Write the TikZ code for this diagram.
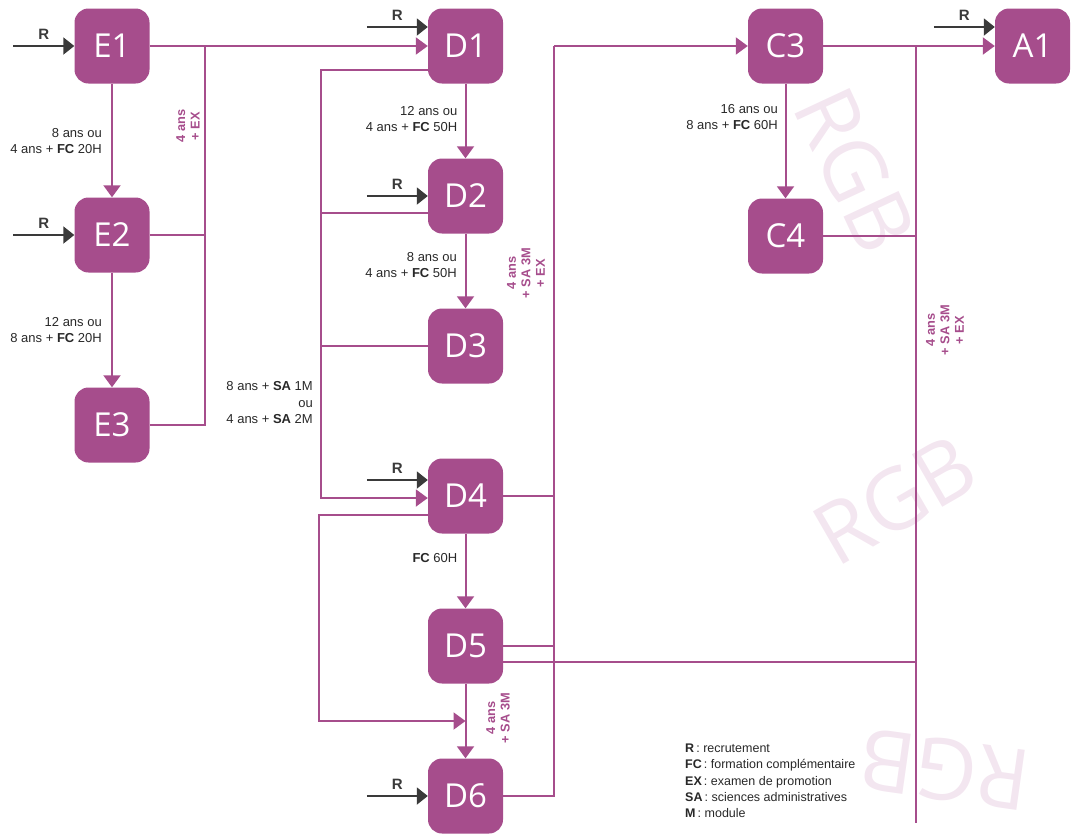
\documentclass[tikz,border=0pt]{standalone}
\usepackage{fontspec}
\setmainfont{Liberation Sans}
\newfontfamily\boxfont{Open Sans}
\usetikzlibrary{arrows.meta,calc}
\definecolor{purp}{RGB}{166,77,140}
\definecolor{dk}{RGB}{58,58,58}
\definecolor{txt}{RGB}{40,40,40}
\definecolor{wm}{RGB}{243,230,240}
\begin{document}
\begin{tikzpicture}[x=1pt,y=-1pt,
  stepbox/.style={rectangle, rounded corners=14pt, fill=purp, minimum width=75pt, minimum height=75pt, inner sep=0pt, text=white, font=\boxfont\fontsize{33}{33}\selectfont},
  pl/.style={draw=purp, line width=2pt},
  pa/.style={pl, -{Triangle[length=12pt,width=17pt]}},
  ra/.style={draw=dk, line width=2pt, -{Triangle[length=11pt,width=17pt]}},
  lab/.style={font=\fontsize{13}{16.5}\selectfont, text=txt, inner sep=0pt, align=right, anchor=east},
  rot/.style={font=\bfseries\fontsize{12.8}{14.5}\selectfont, text=purp, inner sep=0pt, align=center, rotate=90},
  rl/.style={font=\bfseries\fontsize{15}{15}\selectfont, text=dk, inner sep=0pt, above, yshift=6pt},
  wmk/.style={font=\boxfont\fontsize{85}{85}\selectfont, text=wm, inner sep=0pt},
]
\useasboundingbox (0,0) rectangle (1074,833);
% watermark
\node[wmk, rotate=-65] (w1) at (855,170) {RGB};
\node[wmk, rotate=30] (w2) at (895,500) {RGB};
\node[wmk, rotate=172] (w3) at (945,770) {RGB};

% boxes
\node[stepbox] (E1) at (112,46) {E1};
\node[stepbox] (E2) at (112,235) {E2};
\node[stepbox] (E3) at (112,425) {E3};
\node[stepbox] (D1) at (465.5,46) {D1};
\node[stepbox] (D2) at (465.5,196) {D2};
\node[stepbox] (D3) at (465.5,346) {D3};
\node[stepbox] (D4) at (465.5,496) {D4};
\node[stepbox] (D5) at (465.5,646) {D5};
\node[stepbox] (D6) at (465.5,796) {D6};
\node[stepbox] (C3) at (785.5,46) {C3};
\node[stepbox] (C4) at (785.5,236) {C4};
\node[stepbox] (A1) at (1032.5,46) {A1};

\coordinate (xe) at (205,0);
\coordinate (xdl) at (321,0);
\coordinate (xdl2) at (319,0);
\coordinate (xdr) at (554,0);
\coordinate (xr) at (916,0);
\coordinate (bot) at (916,823);

% R arrows
\draw[ra] ($(E1.west)+(-61,0)$) -- (E1.west) node[midway,rl]{R};
\draw[ra] ($(E2.west)+(-61,0)$) -- (E2.west) node[midway,rl]{R};
\draw[ra] ($(D1.west)+(-61,-19)$) -- ($(D1.west)+(0,-19)$) node[midway,rl]{R};
\draw[ra] ($(D2.west)+(-61,0)$) -- (D2.west) node[midway,rl]{R};
\draw[ra] ($(D4.west)+(-61,-16)$) -- ($(D4.west)+(0,-16)$) node[midway,rl]{R};
\draw[ra] ($(D6.west)+(-61,0)$) -- (D6.west) node[midway,rl]{R};
\draw[ra] ($(A1.west)+(-61,-19)$) -- ($(A1.west)+(0,-19)$) node[midway,rl]{R};

% E column
\draw[pa] (E1.east) -- (D1.west);
\draw[pl] (E3.east) -| (E1.east -| xe);
\draw[pl] (E2.east) -- (E2.east -| xe);
\draw[pa] (E1.south) -- (E2.north);
\draw[pa] (E2.south) -- (E3.north);

% D column left side
\draw[pa] ($(D1.west)+(0,24)$) coordinate (d1o) -- (d1o -| xdl) |- ($(D4.west)+(0,2)$);
\draw[pl] ($(D2.west)+(0,17)$) coordinate (d2o) -- (d2o -| xdl);
\draw[pl] (D3.west) -- (D3.west -| xdl);
\draw[pa] ($(D4.west)+(0,19)$) coordinate (d4o) -- (d4o -| xdl2) |- ($(D5.south)!0.5!(D6.north)$);

% D column verticals
\draw[pa] (D1.south) -- (D2.north);
\draw[pa] (D2.south) -- (D3.north);
\draw[pa] (D4.south) -- (D5.north);
\draw[pa] (D5.south) -- (D6.north);

% D column right side
\draw[pl] (D4.east) -- (D4.east -| xdr);
\draw[pl] (D5.east) -- (D5.east -| xdr);
\draw[pl] (D6.east) -| (C3.west -| xdr);
\draw[pa] (C3.west -| xdr) -- (C3.west);
\draw[pl] ($(D5.east)+(0,15.5)$) coordinate (d5o) -- (d5o -| xr);

% C / A
\draw[pa] (C3.south) -- (C4.north);
\draw[pa] (C3.east) -- (A1.west);
\draw[pl] (C3.east -| xr) -- (bot);
\draw[pl] (C4.east) -- (C4.east -| xr);

% labels
\node[lab] (l1) at (102,141) {8 ans ou\\4 ans + \textbf{FC} 20H};
\node[lab] (l2) at (102,330) {12 ans ou\\8 ans + \textbf{FC} 20H};
\node[lab] (l3) at (457.5,119) {12 ans ou\\4 ans + \textbf{FC} 50H};
\node[lab] (l4) at (457,265) {8 ans ou\\4 ans + \textbf{FC} 50H};
\node[lab] (l5) at (457.5,558) {\textbf{FC} 60H};
\node[lab] (l6) at (778,117) {16 ans ou\\8 ans + \textbf{FC} 60H};
\node[lab] (l7) at (313,403) {8 ans + \textbf{SA} 1M\\ou\\4 ans + \textbf{SA} 2M};

\node[rot] (r1) at (188,126) {4 ans\\+ EX};
\node[rot] (r2) at (526,273) {4 ans\\+ SA 3M\\+ EX};
\node[rot] (r3) at (498,718) {4 ans\\+ SA 3M};
\node[rot] (r4) at (945,330) {4 ans\\+ SA 3M\\+ EX};

% legend
\node[font=\fontsize{12.5}{16.3}\selectfont, text=txt, align=left, anchor=west, inner sep=0pt] (leg) at (685,781)
{\textbf{R}\,: recrutement\\\textbf{FC}\,: formation complémentaire\\\textbf{EX}\,: examen de promotion\\\textbf{SA}\,: sciences administratives\\\textbf{M}\,: module};
\end{tikzpicture}
\end{document}
